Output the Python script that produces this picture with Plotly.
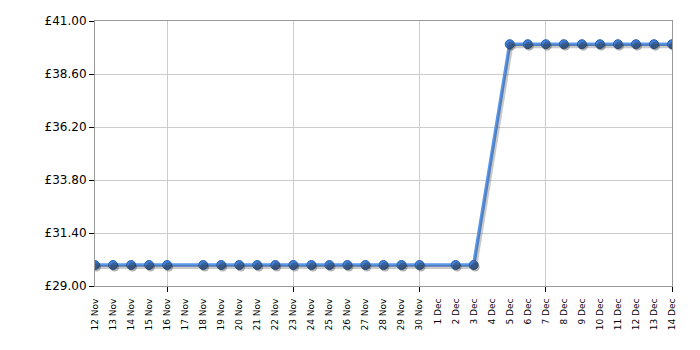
import plotly.graph_objects as go
import pandas as pd

dates = ["2023-11-12", "2023-11-13", "2023-11-14", "2023-11-15", "2023-11-16",
         "2023-11-18", "2023-11-19", "2023-11-20", "2023-11-21", "2023-11-22",
         "2023-11-23", "2023-11-24", "2023-11-25", "2023-11-26", "2023-11-27",
         "2023-11-28", "2023-11-29", "2023-11-30",
         "2023-12-02", "2023-12-03",
         "2023-12-05", "2023-12-06", "2023-12-07", "2023-12-08", "2023-12-09",
         "2023-12-10", "2023-12-11", "2023-12-12", "2023-12-13", "2023-12-14"]
prices = [29.95] * 20 + [39.95] * 10

y_ticks = [29.00, 31.40, 33.80, 36.20, 38.60, 41.00]
all_days = pd.date_range("2023-11-12", "2023-12-14", freq="D")
day_labels = [f"{d.day} {d.strftime('%b')}" for d in all_days]
week_ticks = ["2023-11-16", "2023-11-23", "2023-11-30", "2023-12-07", "2023-12-14"]

x_range = [all_days[0], all_days[-1]]
y_range = [29.0, 41.0]
# shadow offset (~2px)
dx = pd.Timedelta(hours=24 * 32 / 577 * 1.5)
dy = 12 / 265 * 2

font = "DejaVu Sans, Verdana, sans-serif"
fig = go.Figure()
fig.add_trace(go.Scatter(x=[dates[0]], y=[prices[0]], xaxis="x2", yaxis="y", mode="markers",
                         marker=dict(opacity=0), hoverinfo="skip", showlegend=False))
fig.add_trace(go.Scatter(x=dates, y=prices, mode="lines+markers",
                         line=dict(color="rgba(60,60,60,0.28)", width=4),
                         marker=dict(size=9, color="rgba(40,40,40,0.35)"),
                         xaxis="x3", yaxis="y2", hoverinfo="skip", showlegend=False))
fig.add_trace(go.Scatter(x=dates, y=prices, mode="lines+markers",
                         line=dict(color="#5a98ec", width=3.5),
                         marker=dict(size=9, color="#3f80da", line=dict(color="#2c5fa8", width=1)),
                         xaxis="x", yaxis="y", showlegend=False))

fig.update_layout(
    width=700, height=350,
    margin=dict(l=95, r=28, t=21, b=64),
    plot_bgcolor="white", paper_bgcolor="white",
    font=dict(family=font, color="#000"),
    xaxis=dict(type="date", range=x_range, tickmode="array", tickvals=list(all_days),
               ticktext=day_labels, tickangle=-90, tickfont=dict(size=9, family=font),
               showgrid=False, ticks="outside", ticklen=8, tickcolor="rgba(0,0,0,0)",
               showline=True, linecolor="#999", mirror=True, zeroline=False),
    xaxis2=dict(type="date", range=x_range, overlaying="x", tickmode="array",
                tickvals=week_ticks, showticklabels=False, showgrid=True, gridcolor="#cccccc",
                ticks="outside", ticklen=5, tickcolor="#000", showline=False, zeroline=False),
    xaxis3=dict(type="date", range=[x_range[0] - dx, x_range[1] - dx], overlaying="x",
                visible=False),
    yaxis=dict(range=y_range, tickmode="array", tickvals=y_ticks,
               ticktext=[f"£{v:.2f}" for v in y_ticks], tickfont=dict(size=12, family=font),
               showgrid=True, gridcolor="#cccccc", ticks="outside", ticklen=5, tickcolor="#000",
               showline=True, linecolor="#999", mirror=True, zeroline=False),
    yaxis2=dict(range=[y_range[0] + dy, y_range[1] + dy], overlaying="y", visible=False),
)
fig.write_html("out.html")
